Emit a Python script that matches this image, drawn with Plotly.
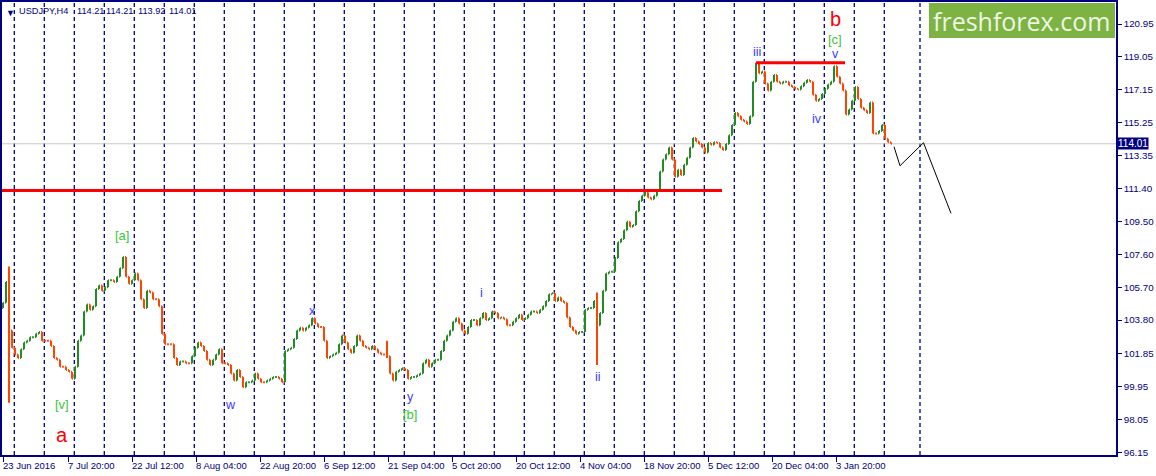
import numpy as np
import plotly.graph_objects as go

# ---------------- data ----------------
symbol_name = "USDJPY,H4"
symbol_quotes = ["114.21", "114.21", "113.92", "114.01"]   # open, high, low, close
start_day = "2016-06-23"
bars_per_sample = 3          # every sample below spans three H4 bars

# closes, one value per 3 H4 bars
close_jun_jul = [104.8, 106.0, 103.2, 102.2, 101.8, 101.6, 102.1, 102.5, 102.6, 102.8,
                 102.8, 103.0, 103.1, 102.6, 102.6, 102.6, 102.3, 101.6, 101.5, 101.1,
                 101.1, 100.9, 100.8, 100.4, 101.1, 102.6, 102.9, 104.3, 104.7, 104.4]
close_jul_aug = [104.6, 105.6, 105.8, 105.5, 105.7, 106.1, 106.1, 106.0, 106.3, 106.8,
                 107.45, 106.3, 105.9, 106.1, 106.5, 106.1, 105.0, 104.5, 105.5, 105.4,
                 105.0, 105.0, 104.6, 103.0, 102.4, 102.4, 102.4, 101.6, 101.2, 101.4]
close_aug = [101.4, 101.3, 101.3, 101.7, 102.2, 102.5, 102.3, 102.0, 101.5, 101.2,
             101.5, 101.8, 102.1, 101.3, 101.3, 101.2, 100.7, 100.3, 100.9, 100.5,
             99.9, 100.2, 100.2, 100.3, 100.7, 100.4, 100.2, 100.2, 100.3, 100.4]
close_aug_sep = [100.5, 100.5, 100.4, 100.2, 102.0, 102.1, 102.2, 102.7, 103.2, 103.35,
                 103.2, 103.35, 103.5, 103.9, 103.6, 103.4, 103.4, 102.6, 101.6, 101.7,
                 101.8, 101.9, 102.4, 102.9, 102.5, 102.1, 101.9, 102.3, 102.9, 102.6]
close_sep_oct = [102.3, 102.2, 102.1, 102.3, 102.1, 101.9, 101.8, 101.8, 101.7, 100.7,
                 100.3, 100.8, 100.9, 101.0, 100.9, 100.4, 100.5, 100.5, 100.6, 100.7,
                 101.3, 101.5, 101.1, 101.3, 101.5, 101.5, 102.0, 102.6, 102.9, 103.2]
close_oct = [103.7, 103.9, 103.6, 103.2, 103.0, 103.4, 103.8, 103.8, 103.5, 103.9,
             104.2, 103.8, 103.9, 104.3, 104.2, 103.9, 103.95, 103.85, 103.5, 103.5,
             103.7, 103.9, 104.1, 103.8, 103.9, 104.1, 104.3, 104.3, 104.2, 104.4]
close_oct_nov = [104.6, 104.9, 105.3, 105.35, 104.9, 105.1, 104.9, 104.8, 103.95, 103.4,
                 103.2, 103.0, 103.1, 103.1, 104.4, 104.5, 104.5, 104.9, 103.5, 104.2,
                 105.5, 106.5, 106.6, 106.6, 107.4, 108.3, 108.5, 109.0, 109.5, 109.2]
close_nov_dec = [109.3, 110.1, 110.7, 111.0, 111.2, 110.9, 110.8, 111.0, 111.3, 112.4,
                 113.1, 113.4, 113.8, 113.1, 112.1, 112.5, 112.2, 112.8, 113.2, 113.8,
                 114.35, 114.15, 114.0, 113.8, 113.5, 114.05, 113.95, 114.1, 114.05, 113.8]
close_dec = [113.65, 114.0, 114.5, 115.1, 115.8, 115.6, 115.4, 115.3, 115.15, 115.6,
             117.6, 118.7, 118.1, 118.2, 117.5, 117.1, 117.6, 118.0, 117.6, 117.5,
             117.6, 117.6, 117.4, 117.3, 117.2, 117.15, 117.35, 117.55, 117.7, 117.6]
close_dec_jan = [116.85, 116.5, 116.6, 116.9, 117.2, 117.45, 117.6, 118.5, 117.9, 117.5,
                 117.1, 115.7, 116.0, 116.5, 117.3, 116.6, 116.1, 115.95, 115.8, 116.4,
                 114.6, 114.6, 114.75, 115.1, 114.3, 114.1, 114.01]
first_open = 104.5

# long wicks (sample index, low, high)
spike_index = [2, 128, 198]
spike_low = [99.0, 101.6, 101.2]
spike_high = [106.9, 102.6, 105.4]

# horizontal levels (price, from bar, to bar)
level_prices = [111.3, 118.71]
level_from = [-1, 753]
level_to = [719, 842]
last_price = 114.01

# forecast path
forecast_bar = [891, 897, 920.5, 948]
forecast_price = [113.84, 112.74, 114.07, 109.98]

# x-axis date labels
xlabel_text = ["23 Jun 2016", "7 Jul 20:00", "22 Jul 12:00", "8 Aug 04:00", "22 Aug 20:00",
               "6 Sep 12:00", "21 Sep 04:00", "5 Oct 20:00", "20 Oct 12:00", "4 Nov 04:00",
               "18 Nov 20:00", "5 Dec 12:00", "20 Dec 04:00", "3 Jan 20:00"]
xlabel_day = ["2016-06-23", "2016-07-07", "2016-07-22", "2016-08-08", "2016-08-22",
              "2016-09-06", "2016-09-21", "2016-10-05", "2016-10-20", "2016-11-04",
              "2016-11-18", "2016-12-05", "2016-12-20", "2017-01-03"]
xlabel_hour = [0, 20, 12, 4, 20, 12, 4, 20, 12, 4, 20, 12, 4, 20]

# y-axis tick labels
ytick_text = ["120.95", "119.05", "117.15", "115.25", "113.35", "111.40", "109.50",
              "107.60", "105.70", "103.80", "101.85", "99.95", "98.05", "96.15"]

# week separators: Mondays, plus one in the chart-shift area
first_monday = "2016-06-27"
last_monday = "2017-01-16"
future_separator_bar = 917

# wave labels
wave_text = ["a", "[v]", "[a]", "w", "x", "y", "[b]", "i", "ii", "iii", "iv", "v", "[c]", "b"]
wave_bar = [59, 59, 119, 227, 309, 407, 407, 478, 595, 754, 814, 832, 832, 832]
wave_price = [97.14, 98.88, 108.67, 98.88, 104.32, 99.34, 98.30, 105.36, 100.5,
              119.30, 115.45, 119.21, 120.05, 121.24]
wave_kind = ["major", "minor", "minor", "sub", "sub", "sub", "minor", "sub", "sub",
             "sub", "sub", "sub", "minor", "major"]

# ---------------- build ----------------
closes = np.array(close_jun_jul + close_jul_aug + close_aug + close_aug_sep + close_sep_oct
                  + close_oct + close_oct_nov + close_nov_dec + close_dec + close_dec_jan)
opens = np.concatenate([[first_open], closes[:-1]])
highs = np.maximum(opens, closes)
lows = np.minimum(opens, closes)
for i, lo, hi in zip(spike_index, spike_low, spike_high):
    lows[i] = min(lows[i], lo)
    highs[i] = max(highs[i], hi)
bars = np.arange(len(closes)) * bars_per_sample


def bar_of(day, hour=0):
    return int(np.busday_count(np.datetime64(start_day), np.datetime64(day))) * 6 + hour // 4


NAVY = "#000080"
FONT = "Liberation Sans"

fig = go.Figure()
fig.add_trace(go.Ohlc(
    x=bars, open=opens, high=highs, low=lows, close=closes,
    increasing=dict(line=dict(color="#228B22", width=2)),
    decreasing=dict(line=dict(color="#FF4500", width=2)),
    tickwidth=0.3, hoverinfo="skip"))
fig.add_trace(go.Scatter(x=forecast_bar, y=forecast_price, mode="lines",
                         line=dict(color="black", width=1), hoverinfo="skip"))

shapes = []
mondays = np.arange(np.datetime64(first_monday), np.datetime64(last_monday) + 1, 7)
sep_bars = [bar_of(str(m)) - 0.7 for m in mondays] + [future_separator_bar]
for b in sep_bars:
    shapes.append(dict(type="line", xref="x", yref="paper", x0=b, x1=b, y0=0, y1=1,
                       line=dict(color=NAVY, width=1.3, dash="4px,3px"), layer="below"))
shapes.append(dict(type="line", xref="paper", yref="y", x0=0, x1=1, y0=last_price, y1=last_price,
                   line=dict(color="#C8C8C8", width=1), layer="below"))
for p, a, b in zip(level_prices, level_from, level_to):
    shapes.append(dict(type="line", xref="x", yref="y", x0=a, x1=b, y0=p, y1=p,
                       line=dict(color="#FF0000", width=3)))
shapes.append(dict(type="rect", xref="paper", yref="paper", x0=0.8321, x1=0.9991, y0=0.9205,
                   y1=0.9978, fillcolor="#7CB342", line=dict(width=0)))

ann = []
for t, d, h in zip(xlabel_text, xlabel_day, xlabel_hour):
    ann.append(dict(x=bar_of(d, h), y=0, xref="x", yref="paper", text=t, showarrow=False,
                    xanchor="left", yanchor="top", yshift=-3, xshift=-2,
                    font=dict(family=FONT, size=9.5, color=NAVY)))
style = {"major": dict(size=20, color="#FF0000"),
         "minor": dict(size=13, color="#3CC43C"),
         "sub": dict(size=12.5, color="#3A3AFF")}
for t, b, p, k in zip(wave_text, wave_bar, wave_price, wave_kind):
    ann.append(dict(x=b, y=p, xref="x", yref="y", text=t, showarrow=False,
                    xanchor="center", yanchor="middle",
                    font=dict(family=FONT, **style[k])))
ann.append(dict(x=1.0, y=last_price, xref="paper", yref="y", text=f"{last_price:.2f}",
                showarrow=False, xanchor="left", yanchor="middle", xshift=1,
                bgcolor=NAVY, borderpad=0, font=dict(family=FONT, size=10, color="white")))
ann.append(dict(x=0.9156, y=0.958, xref="paper", yref="paper", text="freshforex.com",
                showarrow=False, xanchor="center", yanchor="middle",
                font=dict(family="Open Sans", size=25, color="#EEF5E2")))
ann.append(dict(x=0.0, y=1.0, xref="paper", yref="paper", text="\u25BC", showarrow=False,
                xanchor="left", yanchor="top", xshift=2, yshift=-4,
                font=dict(family=FONT, size=9, color=NAVY)))
# header: symbol then O/H/L/C, laid out left to right
header_items = [symbol_name] + symbol_quotes
header_shift = [15, 73, 102, 134, 165]
for t, s in zip(header_items, header_shift):
    ann.append(dict(x=0.0, y=1.0, xref="paper", yref="paper", text=t, showarrow=False,
                    xanchor="left", yanchor="top", xshift=s, yshift=-2,
                    font=dict(family=FONT, size=9.2, color=NAVY)))

ytick_vals = [float(s) for s in ytick_text]
fig.update_layout(
    width=1156, height=476, margin=dict(l=2, r=40, t=2, b=21, autoexpand=False),
    paper_bgcolor="white", plot_bgcolor="white", showlegend=False,
    shapes=shapes, annotations=ann,
    xaxis=dict(range=[-1, 1113], showgrid=False, zeroline=False, showline=True,
               linecolor=NAVY, linewidth=1.5, mirror=True, ticks="outside", ticklen=5,
               tickcolor=NAVY, tickvals=[bar_of(d, h) for d, h in zip(xlabel_day, xlabel_hour)],
               showticklabels=False, rangeslider=dict(visible=False), fixedrange=True,
               automargin=False),
    yaxis=dict(range=[95.98, 122.225], side="right", showgrid=False, zeroline=False,
               showline=True, linecolor=NAVY, linewidth=1.5, mirror=True, ticks="outside",
               ticklen=4, tickcolor=NAVY, tickvals=ytick_vals, ticktext=ytick_text,
               tickfont=dict(family=FONT, size=9.8, color=NAVY), fixedrange=True,
               automargin=False),
)

fig.write_html("out.html", config={"displayModeBar": False},
               post_script="document.body.style.margin='0px';document.body.style.overflow='hidden';")
